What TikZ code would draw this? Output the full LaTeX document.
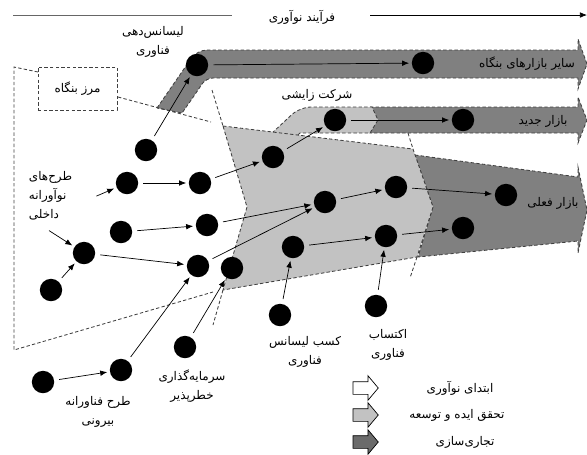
\documentclass[tikz,border=0pt]{standalone}
\usepackage{fontspec}
\newfontfamily\persian[Script=Arabic]{DejaVu Sans}
\TeXXeTstate=1
\newcommand{\fa}[1]{\beginR #1\endR}
\usetikzlibrary{arrows.meta,shapes.arrows}

\begin{document}
\begin{tikzpicture}[
  x=0.25mm, y=-0.25mm,
  every node/.style={font=\persian\fontsize{8.5}{13.5}\selectfont, align=center},
  dot/.style={circle, fill=black, minimum size=5.6mm, inner sep=0pt},
  flow/.style={draw, line width=0.5pt, -{Latex[length=5pt,width=4pt]}, shorten <=1.2mm, shorten >=0.6mm},
  border/.style={draw=black!75, line width=0.6pt, dash pattern=on 2.4pt off 1.6pt},
  commband/.style={border, fill=black!50},
  devband/.style={border, fill=black!24},
  legarrow/.style={single arrow, draw, line width=0.5pt, inner xsep=0pt, inner ysep=1.5mm, minimum height=6.3mm, single arrow head extend=1.5mm, single arrow tip angle=100}
]
\useasboundingbox (0,0) rectangle (587,454);

% Title line
\node (process) at (302,17) {\fa{فرآیند نوآوری}};
\coordinate (tl) at (13,15);
\coordinate (tm) at (232,15);
\coordinate (tr) at (370,15);
\coordinate (tend) at (587,15);
\draw[black!60, line width=0.6pt] (tl) -- (tm);
\draw[line width=0.5pt, -{Latex[length=5pt,width=4pt]}] (tr) -- (tend);

% Commercialization bands
\filldraw[commband] (157,108) [rounded corners=7pt] -- (197,50) -- (240,50) [sharp corners] -- (578,50) -- (578,39) -- (587,64) -- (578,89) -- (578,78) -- (240,78) [rounded corners=5pt] -- (206,78) -- (194,96) [sharp corners] -- (182,113) -- cycle;
\filldraw[commband] (370,107) -- (578,107) -- (578,97) -- (587,120) -- (578,143) -- (578,133) -- (370,133) -- (377,120) -- cycle;
\filldraw[commband] (415,155) -- (578,177) -- (578,167) -- (587,210) -- (578,253) -- (578,241) -- (418,257) -- (433,207) -- cycle;

% Development region
\filldraw[devband] (272,133) [rounded corners=8pt] -- (300,107) -- (330,107) [sharp corners] -- (372,107) -- (378,120) -- (370,133) -- (300,133) -- (290,142) -- cycle;
\filldraw[devband] (223,126) -- (413,149) -- (433,207) -- (417,257) -- (223,290) -- (247,207) -- cycle;
\draw[border] (212,90) -- (223,126);
\draw[border] (223,290) -- (213,325);
\draw[border] (408,133) -- (413,149);
\draw[border] (417,257) -- (410,278);

% Firm boundary
\node[border, minimum width=19.75mm, minimum height=10.75mm] (firm) at (77.5,88.5) {\fa{مرز بنگاه}};
\coordinate (fbin) at (38,72);
\coordinate (fbtl) at (14,67);
\coordinate (fbbl) at (14,350);
\coordinate (fbbr) at (213,292);
\coordinate (fbout) at (118,97);
\coordinate (fbtr) at (211,122);
\draw[border] (fbin) -- (fbtl) -- (fbbl) -- (fbbr);
\draw[border] (fbout) -- (fbtr);

% Projects
\node[dot] (i1) at (51,290) {};
\node[dot] (i2) at (84,253) {};
\node[dot] (i3) at (121,232) {};
\node[dot] (i4) at (127,183) {};
\node[dot] (i5) at (146,150) {};
\node[dot] (i6) at (200,183) {};
\node[dot] (i7) at (207,225) {};
\node[dot] (i8) at (198,266) {};
\node[dot] (vc) at (232,268) {};
\node[dot] (s1) at (273,157) {};
\node[dot] (s2) at (335,120) {};
\node[dot] (s3) at (463,120) {};
\node[dot] (lo1) at (197,65) {};
\node[dot] (lo2) at (423,63) {};
\node[dot] (d1) at (325,202) {};
\node[dot] (d2) at (293,247) {};
\node[dot] (d3) at (396,187) {};
\node[dot] (d4) at (386,236) {};
\node[dot] (m1) at (506,195) {};
\node[dot] (m2) at (463,228) {};
\node[dot] (li) at (280,315) {};
\node[dot] (ac) at (376,306) {};
\node[dot] (e1) at (43,382) {};
\node[dot] (e2) at (121,370) {};
\node[dot] (vc0) at (185,347) {};

% Labels
\node (lolabel) at (153,42) {\fa{لیسانس‌دهی}\\\fa{فناوری}};
\node (spinlabel) at (317,95) {\fa{شرکت زایشی}};
\node (otherm) at (527,64) {\fa{سایر بازارهای بنگاه}};
\node (newm) at (543,121) {\fa{بازار جدید}};
\node (curm) at (553,203) {\fa{بازار فعلی}};
\node[anchor=west, align=left] (intlabel) at (24,196) {\fa{طرح‌های}\\\fa{نوآورانه}\\\fa{داخلی}};
\node (extlabel) at (98,412) {\fa{طرح فناورانه}\\\fa{بیرونی}};
\node (vclabel) at (192,386) {\fa{سرمایه‌گذاری}\\\fa{خطرپذیر}};
\node (lilabel) at (305,352) {\fa{کسب لیسانس}\\\fa{فناوری}};
\node (aclabel) at (388,345) {\fa{اکتساب}\\\fa{فناوری}};
\coordinate (intfrom) at (45,228);
\coordinate (intfrom2) at (92,198);

% Flows
\draw[flow] (intfrom) -- (i2);
\draw[flow] (intfrom2) -- (i4);
\draw[flow] (i1) -- (i2);
\draw[flow] (i2) -- (i8);
\draw[flow] (i4) -- (i6);
\draw[flow] (i3) -- (i7);
\draw[flow] (i6) -- (s1);
\draw[flow] (i5) -- (lo1);
\draw[flow] (lo1) -- (lo2);
\draw[flow] (s1) -- (s2);
\draw[flow] (s2) -- (s3);
\draw[flow] (i7) -- (d1);
\draw[flow] (i8) -- (d1);
\draw[flow] (d1) -- (d3);
\draw[flow] (d2) -- (d4);
\draw[flow] (d3) -- (m1);
\draw[flow] (d4) -- (m2);
\draw[flow] (li) -- (d2);
\draw[flow] (ac) -- (d4);
\draw[flow] (e1) -- (e2);
\draw[flow] (e2) -- (i8);
\draw[flow] (vc0) -- (vc);

% Legend
\node[legarrow, fill=white] (leg1) at (363,388) {};
\node[legarrow, fill=black!24] (leg2) at (363,415) {};
\node[legarrow, fill=black!58] (leg3) at (363,442) {};
\node (legtext1) at (460,388) {\fa{ابتدای نوآوری}};
\node (legtext2) at (457,415) {\fa{تحقق ایده و توسعه}};
\node (legtext3) at (465,442) {\fa{تجاری‌سازی}};

\end{tikzpicture}
\end{document}
